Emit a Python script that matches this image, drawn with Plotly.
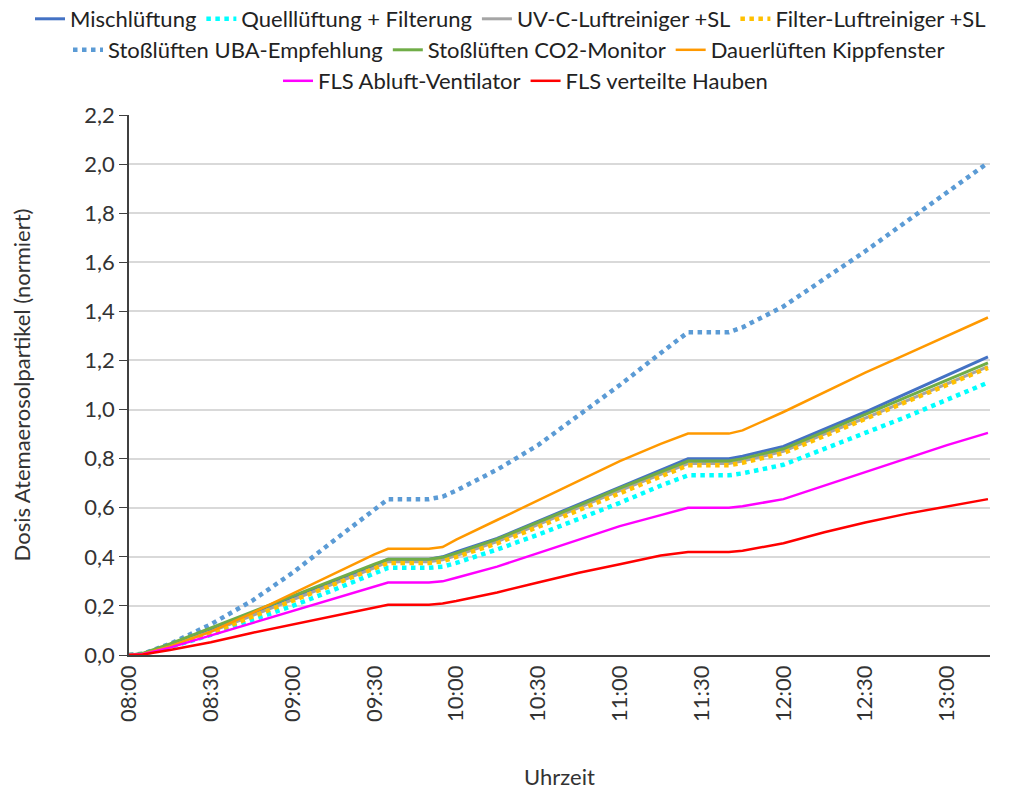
import plotly.graph_objects as go
import pandas as pd

times = ["08:00", "08:05", "08:15", "08:30", "08:45", "09:00", "09:15", "09:30", "09:35",
         "09:50", "09:55", "10:00", "10:15", "10:30", "10:45", "11:00", "11:15", "11:25",
         "11:40", "11:45", "12:00", "12:15", "12:30", "12:45", "13:00", "13:15"]

mischlueftung = [0, 0.004, 0.04, 0.10, 0.165, 0.23, 0.30, 0.365, 0.39, 0.39, 0.40, 0.42, 0.475,
                 0.545, 0.615, 0.685, 0.755, 0.80, 0.80, 0.81, 0.85, 0.92, 0.99, 1.065, 1.14, 1.215]
quelllueftung = [0, 0.003, 0.032, 0.082, 0.142, 0.20, 0.265, 0.33, 0.355, 0.355, 0.36, 0.375, 0.43,
                 0.49, 0.555, 0.62, 0.69, 0.732, 0.732, 0.74, 0.775, 0.84, 0.905, 0.97, 1.04, 1.11]
uvc = [0, 0.004, 0.038, 0.095, 0.16, 0.225, 0.29, 0.355, 0.38, 0.38, 0.388, 0.405, 0.462,
       0.53, 0.60, 0.67, 0.735, 0.78, 0.78, 0.79, 0.83, 0.90, 0.965, 1.035, 1.105, 1.175]
filter_lr = [0, 0.004, 0.036, 0.09, 0.155, 0.22, 0.285, 0.35, 0.375, 0.375, 0.382, 0.40, 0.455,
             0.522, 0.59, 0.66, 0.728, 0.773, 0.773, 0.783, 0.823, 0.892, 0.96, 1.03, 1.10, 1.17]
uba = [0, 0.005, 0.045, 0.125, 0.22, 0.335, 0.465, 0.595, 0.635, 0.635, 0.645, 0.67, 0.755,
       0.855, 0.975, 1.10, 1.23, 1.315, 1.315, 1.335, 1.42, 1.53, 1.645, 1.765, 1.885, 2.005]
co2 = [0, 0.006, 0.045, 0.11, 0.178, 0.24, 0.305, 0.37, 0.39, 0.39, 0.398, 0.415, 0.472,
       0.54, 0.61, 0.68, 0.745, 0.79, 0.79, 0.80, 0.84, 0.91, 0.98, 1.05, 1.12, 1.19]
kippfenster = [0, 0.004, 0.035, 0.095, 0.17, 0.25, 0.33, 0.41, 0.433, 0.433, 0.44, 0.47, 0.55,
               0.63, 0.71, 0.79, 0.86, 0.902, 0.902, 0.915, 0.99, 1.07, 1.15, 1.225, 1.30, 1.375]
fls_abluft = [0, 0.003, 0.03, 0.08, 0.13, 0.18, 0.23, 0.28, 0.295, 0.295, 0.30, 0.315, 0.36,
              0.415, 0.47, 0.525, 0.57, 0.60, 0.60, 0.606, 0.635, 0.69, 0.745, 0.80, 0.855, 0.905]
fls_hauben = [0, 0.002, 0.02, 0.052, 0.09, 0.125, 0.16, 0.195, 0.205, 0.205, 0.21, 0.22, 0.255,
              0.295, 0.335, 0.37, 0.405, 0.42, 0.42, 0.425, 0.455, 0.50, 0.54, 0.575, 0.605, 0.635]

x_ticks = ["08:00", "08:30", "09:00", "09:30", "10:00", "10:30", "11:00", "11:30", "12:00",
           "12:30", "13:00"]

day = "2021-01-01 "
x = pd.to_datetime([day + t for t in times])
tickvals = pd.to_datetime([day + t for t in x_ticks])

series = [
    ("Mischlüftung", mischlueftung, "#4472C4", "solid", 3, "legend"),
    ("Quelllüftung + Filterung", quelllueftung, "#00FFFF", "dot", 4.5, "legend"),
    ("UV-C-Luftreiniger +SL", uvc, "#A5A5A5", "solid", 3, "legend"),
    ("Filter-Luftreiniger +SL", filter_lr, "#FFC000", "dot", 4.5, "legend"),
    ("Stoßlüften UBA-Empfehlung", uba, "#5B9BD5", "dot", 4.5, "legend2"),
    ("Stoßlüften CO2-Monitor", co2, "#70AD47", "solid", 3, "legend2"),
    ("Dauerlüften Kippfenster", kippfenster, "#FF9900", "solid", 2.5, "legend2"),
    ("FLS Abluft-Ventilator", fls_abluft, "#FF00FF", "solid", 2.5, "legend3"),
    ("FLS verteilte Hauben", fls_hauben, "#FF0000", "solid", 2.5, "legend3"),
]

fig = go.Figure()
for name, vals, color, dash, width, leg in series:
    fig.add_trace(go.Scatter(
        x=x, y=vals, name=name, mode="lines",
        line=dict(color=color, dash=dash, width=width),
        legend=leg,
    ))

font = "Lato, 'Open Sans', sans-serif"
FS = 22
W = 1002
H = 788
ML, MR, MT, MB = 121, 20, 107, 141
PW = W - ML - MR
PH = H - MT - MB

legend_common = dict(orientation="h", xanchor="left", yanchor="middle",
                     font=dict(family=font, size=22, color="#222"), bgcolor="rgba(0,0,0,0)",
                     itemwidth=30)

def py_(px):
    return (H + 8 - MB - px) / PH

def px_x(px):
    return (px - 8 - ML) / PW

fig.update_layout(
    width=W, height=H,
    paper_bgcolor="white", plot_bgcolor="white",
    separators=",.",
    margin=dict(l=ML, r=MR, t=MT, b=MB, autoexpand=False),
    font=dict(family=font, size=FS, color="#333"),
    legend=dict(**legend_common, y=py_(19), x=px_x(30)),
    legend2=dict(**legend_common, y=py_(50), x=px_x(68)),
    legend3=dict(**legend_common, y=py_(81), x=px_x(278)),
    xaxis=dict(
        range=[pd.Timestamp(day + "08:00"), pd.Timestamp(day + "13:15:45")],
        tickvals=tickvals, ticktext=x_ticks, tickangle=-90,
        showgrid=False, showline=True, linecolor="#404040", linewidth=1.5,
        ticks="", tickfont=dict(size=FS, color="#333"),
        title=dict(text="Uhrzeit", font=dict(size=FS, color="#333"), standoff=49),
        zeroline=False,
    ),
    yaxis=dict(
        range=[0, 2.2], dtick=0.2, tick0=0, tickformat=".1f",
        showgrid=True, gridcolor="#D9D9D9", gridwidth=1.5,
        showline=True, linecolor="#404040", linewidth=1.5,
        ticks="outside", ticklen=8, tickcolor="#404040",
        tickfont=dict(size=FS, color="#333"),
        title=dict(text="Dosis Atemaerosolpartikel (normiert)", font=dict(size=FS, color="#333"), standoff=50),
        zeroline=False,
    ),
)

fig.write_html("out.html")
